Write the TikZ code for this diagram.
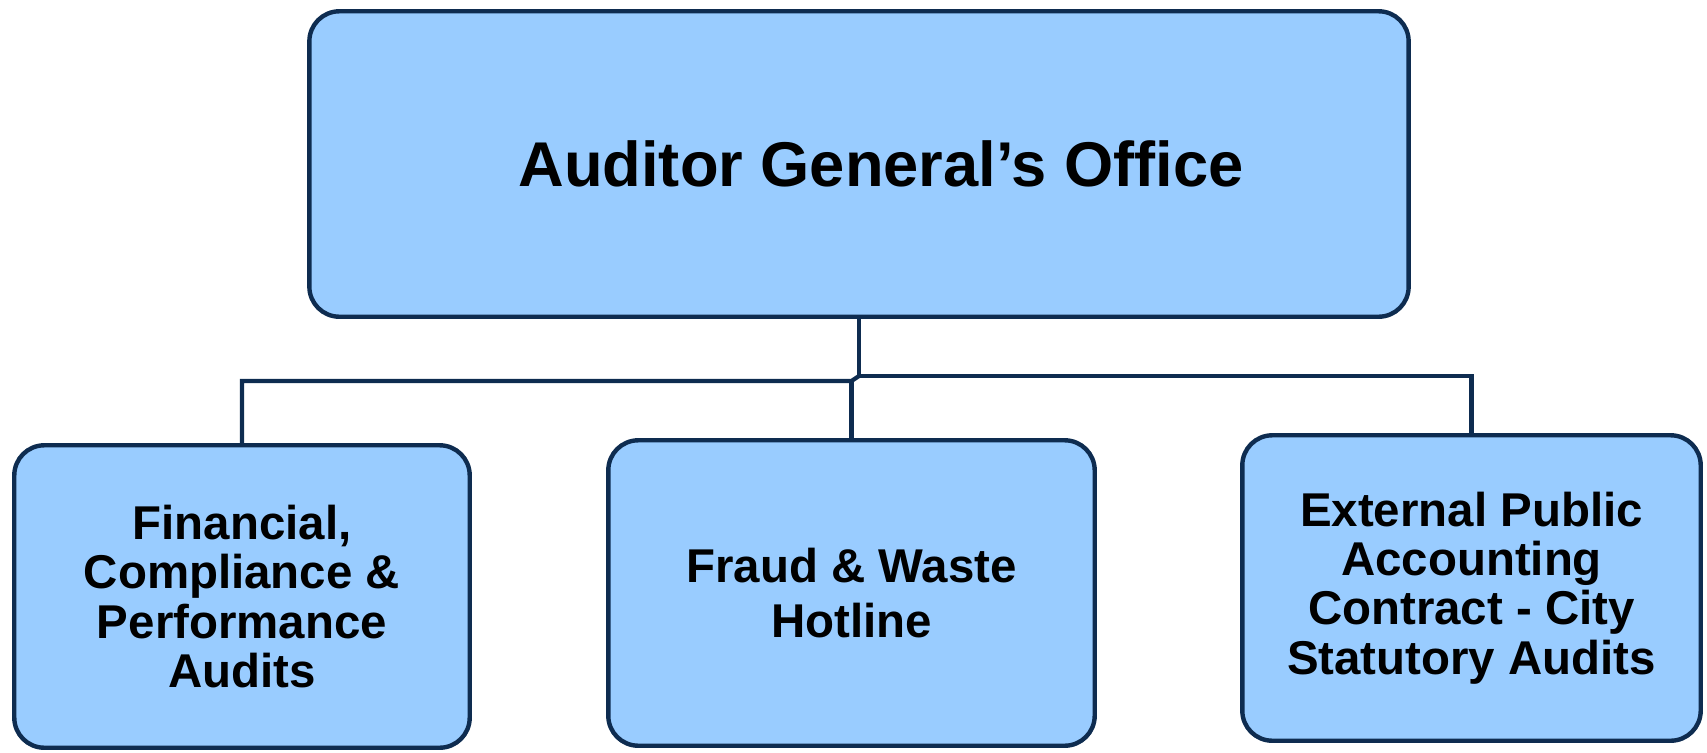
\documentclass[tikz,border=0pt]{standalone}
\usepackage{fontspec}
\setmainfont{Liberation Sans}
\definecolor{orgline}{RGB}{14,44,80}
\definecolor{orgfill}{RGB}{153,204,255}
\tikzset{
  unit/.style={draw=orgline, fill=orgfill, line width=2.5pt, rounded corners=0.6cm,
    align=center, inner sep=0pt, font=\bfseries\fontsize{27}{28}\selectfont},
  link/.style={draw=orgline, line width=2.4pt}
}
\begin{document}
\begin{tikzpicture}[x=0.02cm,y=-0.02cm]
\useasboundingbox (0,0) rectangle (1707,752);
\node[unit, minimum width=21.99cm, minimum height=6.11cm,
  font=\bfseries\fontsize{36}{38}\selectfont] (office) at (859,164) {\hspace*{0.88cm}Auditor General’s Office};
\node[unit, minimum width=9.11cm, minimum height=6.05cm] (fin) at (242,596.5) {Financial,\\Compliance \&\\Performance\\Audits};
\node[unit, minimum width=9.73cm, minimum height=6.11cm,
  font=\bfseries\fontsize{27}{31}\selectfont] (fraud) at (851.5,593) {Fraud \& Waste\\Hotline};
\node[unit, minimum width=9.17cm, minimum height=6.11cm] (ext) at (1471.5,588) {External Public\\Accounting\\Contract - City\\Statutory Audits};
% joints of the tree
\coordinate (jr) at (office.south |- 0,376);
\coordinate (jl) at (fraud.north |- 0,381);
\draw[link] (office.south) -- (jr) -| (ext.north);
\draw[link] (jr) -- (jl) -| (fin.north);
\draw[link] (jl) -- (fraud.north);
\end{tikzpicture}
\end{document}
